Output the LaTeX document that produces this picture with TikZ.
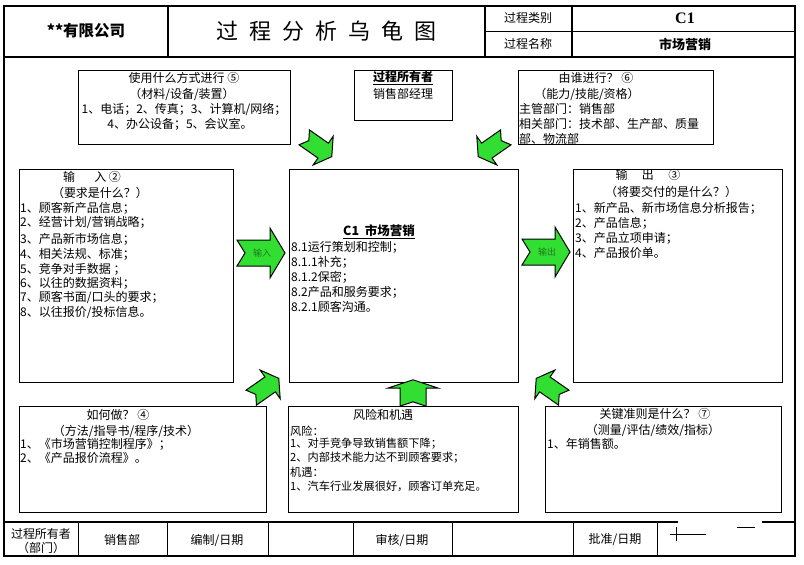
\documentclass[tikz,border=0pt]{standalone}
\usepackage{fontspec}
\setmainfont{Noto Sans CJK SC}
\newfontfamily\lserif{Liberation Serif}
\newcommand\myfs[1]{\fontsize{#1}{#1}\selectfont}
\definecolor{arrgreen}{RGB}{50,222,50}
\definecolor{lblgreen}{RGB}{30,120,30}
\tikzset{
  t/.style={inner sep=0pt, font=\myfs{12}},
  tl/.style={t, anchor=west},
  ts/.style={inner sep=0pt, font=\myfs{11.2}, anchor=west},
  bx/.style={draw=black, line width=0.9pt},
  frm/.style={draw=black, line width=1.1pt},
  arr/.style={fill=arrgreen, draw=black, line width=1pt, line join=miter},
  chev/.pic={\path[arr] (-24,-13) -- (9,-13) -- (9,-25) -- (24,0) -- (9,25) -- (9,13) -- (-24,13) -- (-16,0) -- cycle;},
  albl/.style={inner sep=0pt, font=\myfs{9}, text=lblgreen}
}
\begin{document}
\begin{tikzpicture}[x=1pt,y=-1pt]
\useasboundingbox[fill=white] (0,0) rectangle (804,565);
% outer frame and header
\draw[frm] (4,6) -- (795,6) -- (795,556) -- (4,556) -- cycle;
\draw[frm] (4,57) -- (795,57);
\draw[frm] (168,6) -- (168,57);
\draw[frm] (485,6) -- (485,57);
\draw[frm] (572,6) -- (572,57);
\draw[bx] (485,31) -- (795,31);
\node[t, font=\myfs{15.5}\bfseries] (company) at (86,31) {**有限公司};
\node[t, font=\myfs{22}] (title) at (326,31) {过\hspace{11pt}程\hspace{11pt}分\hspace{11pt}析\hspace{11pt}乌\hspace{11pt}龟\hspace{11pt}图};
\node[t, font=\myfs{12}] (catlbl) at (528,18) {过程类别};
\node[t, font=\myfs{12}] (namelbl) at (528,44) {过程名称};
\node[t, font=\myfs{16}\lserif\bfseries] (catval) at (685,18) {C1};
\node[t, font=\myfs{13}\bfseries] (nameval) at (685,44) {市场营销};

% box 5
\draw[bx] (78,70) rectangle (290,144);
\node[t] (b5a) at (184,78) {使用什么方式进行 ⑤};
\node[t] (b5b) at (182,94) {（材料/设备/装置）};
\node[t] (b5c) at (184,109) {1、电话；2、传真；3、计算机/网络；};
\node[t] (b5d) at (180,124) {4、办公设备；5、会议室。};

% owner box
\draw[bx] (354,70) rectangle (452,120);
\node[t, font=\myfs{12}\bfseries] (owna) at (403,78) {\underline{过程所有者}};
\node[t] (ownb) at (403,94) {销售部经理};

% box 6
\draw[bx] (518,70) rectangle (713,144);
\node[t] (b6a) at (596,78) {由谁进行？ ⑥};
\node[t] (b6b) at (587,94) {（能力/技能/资格）};
\node[tl] (b6c) at (519,109) {主管部门：销售部};
\node[tl] (b6d) at (519,124) {相关部门：技术部、生产部、质量};
\node[tl] (b6e) at (519,138.5) {部、物流部};

% input box
\draw[bx] (19,169) rectangle (233,382);
\node[t] (ina) at (92,177) {输\hspace{1.6em}入 ②};
\node[t] (inb) at (100,193) {（要求是什么？）};
\node[tl] (in1) at (20,208) {1、顾客新产品信息；};
\node[tl] (in2) at (20,223) {2、经营计划/营销战略；};
\node[tl] (in3) at (20,239) {3、产品新市场信息；};
\node[tl] (in4) at (20,254) {4、相关法规、标准；};
\node[tl] (in5) at (20,269) {5、竞争对手数据 ；};
\node[tl] (in6) at (20,283) {6、以往的数据资料；};
\node[tl] (in7) at (20,297) {7、顾客书面/口头的要求；};
\node[tl] (in8) at (20,312) {8、以往报价/投标信息。};

% center box
\draw[bx] (289,169) rectangle (518,382);
\node[t, font=\myfs{12.5}\bfseries] (cta) at (379,232) {\underline{C1\ \ 市场营销}};
\node[tl] (ct1) at (291,247) {8.1运行策划和控制；};
\node[tl] (ct2) at (291,262) {8.1.1补充；};
\node[tl] (ct3) at (291,277) {8.1.2保密；};
\node[tl] (ct4) at (291,292) {8.2产品和服务要求；};
\node[tl] (ct5) at (291,307) {8.2.1顾客沟通。};

% output box
\draw[bx] (573,169) rectangle (782,382);
\node[t] (outa) at (648,175) {输\hspace{1.2em}出\hspace{1.2em}③};
\node[t] (outb) at (671,192) {（将要交付的是什么？）};
\node[tl] (out1) at (575,208) {1、新产品、新市场信息分析报告；};
\node[tl] (out2) at (575,223) {2、产品信息；};
\node[tl] (out3) at (575,238) {3、产品立项申请；};
\node[tl] (out4) at (575,253) {4、产品报价单。};

% how box
\draw[bx] (19,406) rectangle (266,512);
\node[t] (howa) at (118,415) {如何做？ ④};
\node[t] (howb) at (126,431) {（方法/指导书/程序/技术）};
\node[tl] (how1) at (20,444) {1、《市场营销控制程序》；};
\node[tl] (how2) at (20,458) {2、《产品报价流程》。};

% risk box
\draw[bx] (288,406) rectangle (518,512);
\node[t] (riska) at (383,415) {风险和机遇};
\node[ts] (risk1) at (290,431) {风险：};
\node[ts] (risk2) at (290,444) {1、对手竞争导致销售额下降；};
\node[ts] (risk3) at (290,458) {2、内部技术能力达不到顾客要求；};
\node[ts] (risk4) at (290,472) {机遇：};
\node[ts] (risk5) at (290,486) {1、汽车行业发展很好，顾客订单充足。};

% criteria box
\draw[bx] (545,406) rectangle (781,512);
\node[t] (kpia) at (655,414) {关键准则是什么？ ⑦};
\node[t] (kpib) at (653,430) {（测量/评估/绩效/指标）};
\node[tl] (kpi1) at (547,444) {1、年销售额。};

% arrows
\pic at (261,253) {chev};
\node[albl] (inlbl) at (262,253) {输入};
\pic at (546,252) {chev};
\node[albl] (outlbl) at (547,252) {输出};
\pic[rotate=-35, scale=0.7] at (318,147) {chev};
\pic[rotate=-145, scale=0.7] at (492,147) {chev};
\pic[rotate=35, scale=0.7] at (265,388) {chev};
\pic[rotate=145, scale=0.7] at (550,388) {chev};
\pic[rotate=90, xscale=0.55] at (413,393) {chev};

% footer
\draw[frm] (4,522) -- (678,522);
\draw[frm] (762,522) -- (795,522);
\draw[bx] (737,527) -- (755,527);
\draw[bx] (676,527) -- (676,541);
\draw[bx] (670,534) -- (706,534);
\foreach \fx in {78,167,268,353,452,573,657} {\draw[bx] (\fx,522) -- (\fx,556);}
\node[t] (fa1) at (41,534) {过程所有者};
\node[t] (fa2) at (41,548) {（部门）};
\node[t] (fb) at (122,540) {销售部};
\node[t] (fc) at (217,540) {编制/日期};
\node[t] (fd) at (402,540) {审核/日期};
\node[t] (fe) at (615,540) {批准/日期};
\end{tikzpicture}
\end{document}
